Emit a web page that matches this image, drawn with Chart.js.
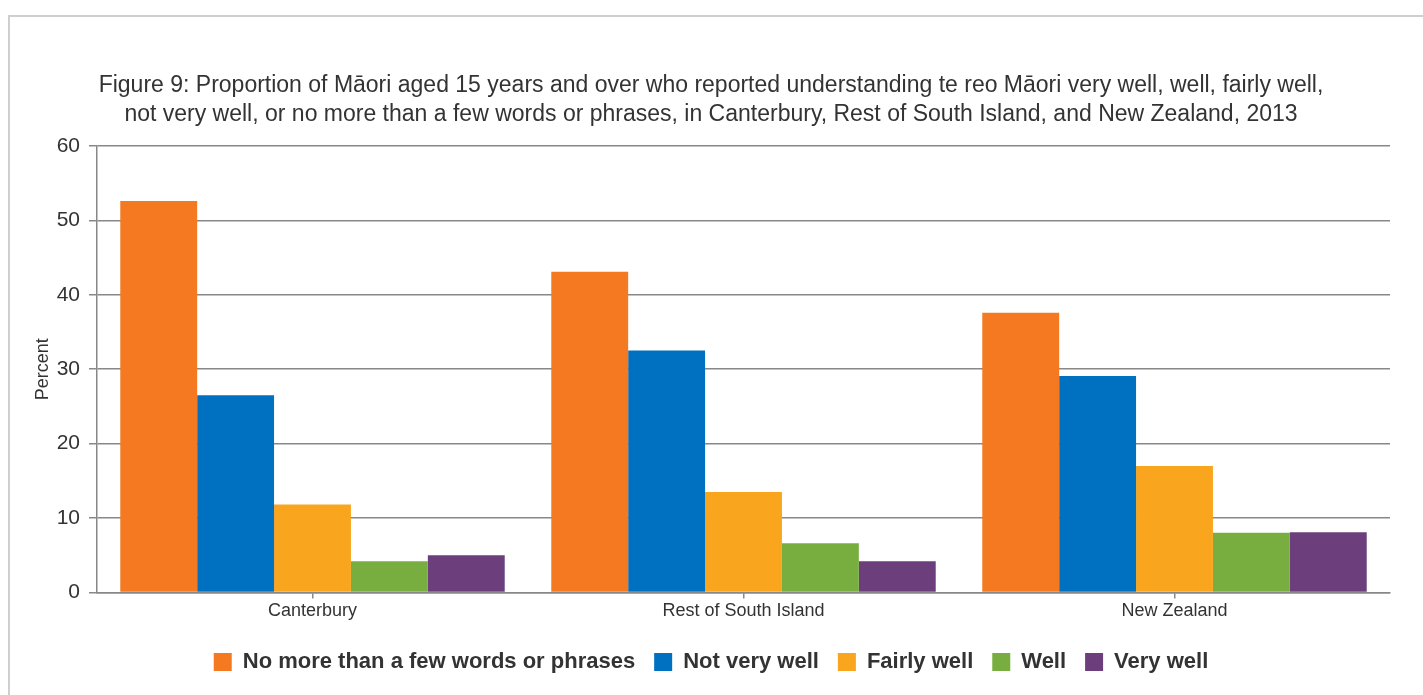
<!DOCTYPE html>
<html lang="en">
<head>
  <meta charset="UTF-8">
  <script src="https://cdn.jsdelivr.net/npm/chart.js"></script>
  <title>Figure 9</title>
  <style>
    body{margin:0; background:#fff;}
    #frame{position:absolute; left:8px; top:15px; width:1430px; height:700px; border:2px solid #cfcfcf;}
    #wrap{position:absolute; left:0; top:0; width:1423px; height:695px;}
  </style>
</head>
<body>
  <div id="frame"></div>
  <div id="wrap">
    <canvas id="myChart" width="1423" height="695"></canvas>
  </div>
  <script>
    // categories and series (percent)
    const regions = ['Canterbury', 'Rest of South Island', 'New Zealand'];
    const fewWords = [52.6, 43.1, 37.6];
    const notVeryWell = [26.5, 32.5, 29.1];
    const fairlyWell = [11.8, 13.5, 17.0];
    const well = [4.2, 6.6, 8.0];
    const veryWell = [5.0, 4.2, 8.1];
    const yTicks = [0, 10, 20, 30, 40, 50, 60];

    const FONT = 'Liberation Sans, Arial, sans-serif';
    const ctx = document.getElementById('myChart');
    new Chart(ctx, {
      type: 'bar',
      data: {
        labels: regions,
        datasets: [
          {label: 'No more than a few words or phrases', data: fewWords, backgroundColor: '#f47920'},
          {label: 'Not very well', data: notVeryWell, backgroundColor: '#0070c0'},
          {label: 'Fairly well', data: fairlyWell, backgroundColor: '#f9a51e'},
          {label: 'Well', data: well, backgroundColor: '#78ae3f'},
          {label: 'Very well', data: veryWell, backgroundColor: '#6c3f7c'}
        ]
      },
      options: {
        responsive: false,
        animation: false,
        devicePixelRatio: 1,
        layout: {padding: {top: 71, left: 32, right: 33, bottom: 12}},
        datasets: {bar: {categoryPercentage: 0.892, barPercentage: 1}},
        plugins: {
          title: {
            display: true,
            text: ['Figure 9: Proportion of Māori aged 15 years and over who reported understanding te reo Māori very well, well, fairly well,',
                   'not very well, or no more than a few words or phrases, in Canterbury, Rest of South Island, and New Zealand, 2013'],
            color: '#333',
            font: {family: FONT, size: 23, weight: 'normal', lineHeight: 1.26},
            padding: {top: 0, bottom: 17}
          },
          legend: {
            position: 'bottom',
            labels: {
              color: '#333',
              boxWidth: 18, boxHeight: 18,
              padding: 19,
              font: {family: FONT, size: 22, weight: 'bold'}
            }
          },
          tooltip: {enabled: false}
        },
        scales: {
          x: {
            grid: {drawOnChartArea: false, offset: false, color: '#888', lineWidth: 1.5, tickLength: 6},
            border: {color: '#888', width: 1.5},
            ticks: {color: '#333', font: {family: FONT, size: 18}, padding: 2},
            afterFit: (s) => { s.height += 8; }
          },
          y: {
            min: 0, max: 60,
            afterBuildTicks: (axis) => { axis.ticks = yTicks.map(v => ({value: v})); },
            grid: {color: '#888', lineWidth: 1.5, tickLength: 8},
            border: {color: '#888', width: 1.5},
            ticks: {color: '#333', font: {family: FONT, size: 21}, padding: 9},
            title: {display: true, text: 'Percent', color: '#333', font: {family: FONT, size: 18}, padding: {top: 0, bottom: 0}},
            afterFit: (s) => { s.width = 65; }
          }
        }
      }
    });
  </script>
</body>
</html>
